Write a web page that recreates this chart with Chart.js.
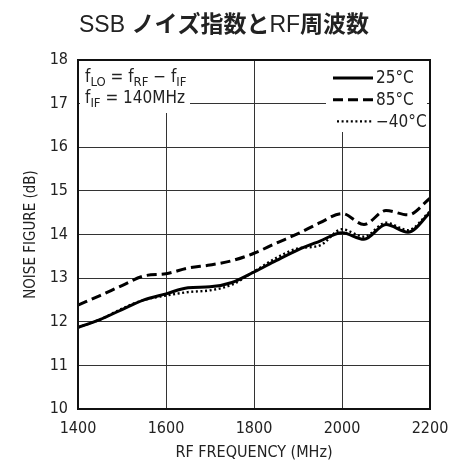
<!DOCTYPE html>
<html>
<head>
<meta charset="utf-8">
<script src="https://cdn.jsdelivr.net/npm/chart.js@4.4.0/dist/chart.umd.min.js"></script>
<style>
  html, body { margin: 0; padding: 0; background: #fff; }
  #wrap { width: 449px; height: 462px; }
</style>
</head>
<body>
<div id="wrap"><canvas id="myChart" width="449" height="462"></canvas></div>
<script>
// data
const freqs = [1400, 1450, 1500, 1550, 1600, 1650, 1700, 1750, 1800, 1850, 1900, 1950, 2000, 2050, 2100, 2150, 2200];
const nf25 = [11.87, 12.05, 12.28, 12.5, 12.64, 12.78, 12.8, 12.9, 13.14, 13.4, 13.65, 13.85, 14.04, 13.89, 14.23, 14.05, 14.5];
const nf85 = [12.38, 12.6, 12.83, 13.05, 13.1, 13.23, 13.3, 13.4, 13.57, 13.8, 14.02, 14.27, 14.48, 14.23, 14.55, 14.45, 14.83];
const nfMinus40 = [11.87, 12.05, 12.3, 12.5, 12.6, 12.68, 12.72, 12.85, 13.15, 13.46, 13.68, 13.75, 14.12, 13.95, 14.27, 14.1, 14.53];
const seriesNames = ['25°C', '85°C', '−40°C'];
const xTicks = [1400, 1600, 1800, 2000, 2200];
const yTicks = [10, 11, 12, 13, 14, 15, 16, 17, 18];

const narrow = '"Liberation Sans Narrow", "DejaVu Sans Condensed", sans-serif';
const ink = '#222';

function toPoints(vals) {
  return freqs.map((f, i) => ({ x: f, y: vals[i] }));
}

const dashes = [[], [10, 5], [2, 2.6]];
const widths = [3, 3, 2.4];

// title with mixed weights
const titlePlugin = {
  id: 'mixedTitle',
  afterDraw(chart) {
    const c = chart.ctx;
    const parts = [
      ['SSB ', '400 23px "Liberation Sans", sans-serif'],
      ['ノイズ指数と', '700 23px "Noto Sans CJK JP", sans-serif'],
      ['RF', '400 23px "Liberation Sans", sans-serif'],
      ['周波数', '700 23px "Noto Sans CJK JP", sans-serif']
    ];
    c.save();
    let total = 0;
    parts.forEach(p => { c.font = p[1]; total += c.measureText(p[0]).width; });
    let x = 224 - total / 2;
    c.fillStyle = ink;
    c.textBaseline = 'alphabetic';
    parts.forEach(p => {
      c.font = p[1];
      c.fillText(p[0], x, 32);
      x += c.measureText(p[0]).width;
    });
    c.restore();
  }
};

// frame, annotation and legend boxes
const boxPlugin = {
  id: 'boxes',
  afterDatasetsDraw(chart) {
    const c = chart.ctx;
    const a = chart.chartArea;
    c.save();

    // annotation
    c.fillStyle = '#fff';
    c.fillRect(a.left + 2, a.top + 1, 110, 52);
    c.fillStyle = ink;
    c.textBaseline = 'alphabetic';
    let x = a.left + 7;
    const big = '17px ' + narrow, sub = '13px ' + narrow;
    const line1 = [['f', big, 0], ['LO', sub, 4], [' = f', big, 0], ['RF', sub, 4], [' − f', big, 0], ['IF', sub, 4]];
    const line2 = [['f', big, 0], ['IF', sub, 4], [' = 140MHz', big, 0]];
    [[line1, a.top + 22], [line2, a.top + 43]].forEach(([segs, y]) => {
      let xx = x;
      segs.forEach(s => {
        c.font = s[1];
        c.fillText(s[0], xx, y + s[2]);
        xx += c.measureText(s[0]).width;
      });
    });

    // legend
    c.fillStyle = '#fff';
    c.fillRect(a.right - 104, a.top + 1, 101, 71);
    const lx0 = a.right - 97, lx1 = a.right - 57;
    chart.data.datasets.forEach((ds, i) => {
      const y = a.top + 18 + i * 21.7;
      c.beginPath();
      c.setLineDash(ds.borderDash || []);
      c.lineWidth = ds.borderWidth;
      c.strokeStyle = '#000';
      c.moveTo(i === 2 ? lx0 + 4 : lx0, y);
      c.lineTo(lx1, y);
      c.stroke();
      c.setLineDash([]);
      c.fillStyle = ink;
      c.font = '17px ' + narrow;
      c.textBaseline = 'middle';
      c.fillText(ds.label, lx1 + 3, y + 1);
    });

    // frame
    c.strokeStyle = '#111';
    c.lineWidth = 2;
    c.strokeRect(a.left, a.top, a.right - a.left, a.bottom - a.top);
    c.restore();
  }
};

let ctx = document.getElementById('myChart').getContext('2d');

let myChart = new Chart(ctx, {
  type: 'line',
  data: {
    datasets: [nf25, nf85, nfMinus40].map((vals, i) => ({
      label: seriesNames[i],
      data: toPoints(vals),
      borderColor: '#000',
      borderWidth: widths[i],
      borderDash: dashes[i],
      pointRadius: 0,
      fill: false,
      cubicInterpolationMode: 'monotone'
    }))
  },
  options: {
    responsive: false,
    animation: false,
    layout: { padding: { top: 60, right: 0, left: 22, bottom: 0 } },
    plugins: {
      legend: { display: false },
      title: { display: false },
      tooltip: { enabled: false }
    },
    scales: {
      x: {
        type: 'linear',
        min: 1400,
        max: 2200,
        afterBuildTicks(scale) { scale.ticks = xTicks.map(v => ({ value: v })); },
        afterFit(scale) {
          scale.height = 53;
          scale.paddingLeft = 0;
          scale.paddingRight = 19;
        },
        grid: { color: '#333', lineWidth: 1, drawTicks: false },
        border: { display: false },
        ticks: {
          color: ink,
          font: { family: narrow, size: 16 },
          padding: 10,
          maxRotation: 0,
          callback: v => String(v)
        },
        title: {
          display: true,
          text: 'RF FREQUENCY (MHz)',
          color: ink,
          font: { family: narrow, size: 16 },
          padding: { top: 0, bottom: 0 }
        }
      },
      y: {
        min: 10,
        max: 18,
        afterBuildTicks(scale) { scale.ticks = yTicks.map(v => ({ value: v })); },
        afterFit(scale) { scale.width = 56; },
        grid: { color: '#333', lineWidth: 1, drawTicks: false },
        border: { display: false },
        ticks: { color: ink, font: { family: narrow, size: 16 }, padding: 10, callback: v => String(v) },
        title: {
          display: true,
          text: 'NOISE FIGURE (dB)',
          color: ink,
          font: { family: narrow, size: 15 },
          padding: { top: 0, bottom: 0 }
        }
      }
    }
  },
  plugins: [titlePlugin, boxPlugin]
});
</script>
</body>
</html>
